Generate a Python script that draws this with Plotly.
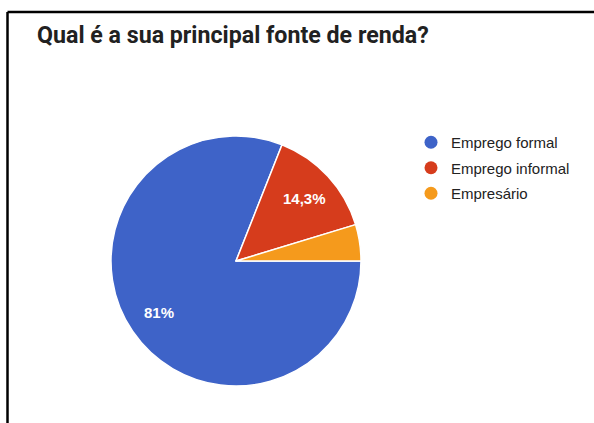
import math
import plotly.graph_objects as go

# Survey answers: main source of income
categories = ["Emprego formal", "Emprego informal", "Empresário"]
shares = [81.0, 14.3, 4.7]
slice_labels = ["81%", "14,3%", ""]
colors = ["#3e63c8", "#d63c1c", "#f59a1c"]

W, H = 594, 423
CX, CY, R = 236, 261, 125  # pie centre and radius in pixels
START_DEG = 0  # first slice starts at 3 o'clock, going clockwise
LABEL_R = 0.74


def px_x(v):
    return v / W


def px_y(v):
    return 1 - v / H


fig = go.Figure()

fig.add_trace(go.Pie(
    labels=categories,
    values=shares,
    textinfo="none",
    marker=dict(colors=colors, line=dict(color="white", width=1.5)),
    sort=False,
    direction="clockwise",
    rotation=90,
    showlegend=False,
    hoverinfo="label+percent",
    domain=dict(x=[px_x(CX - R), px_x(CX + R)], y=[px_y(CY + R), px_y(CY - R)]),
))

# slice percentages placed at the middle angle of each slice
total = sum(shares)
cum = 0.0
for val, lab in zip(shares, slice_labels):
    mid = START_DEG - 360.0 * (cum + val / 2) / total
    cum += val
    if not lab:
        continue
    a = math.radians(mid)
    fig.add_annotation(
        text=lab, showarrow=False, xref="paper", yref="paper",
        x=px_x(CX + LABEL_R * R * math.cos(a)),
        y=px_y(CY - LABEL_R * R * math.sin(a)),
        xanchor="center", yanchor="middle",
        font=dict(family="Liberation Sans, Arial", size=15, color="white", weight="bold"),
    )

# legend entries with round markers
for name, col in zip(categories, colors):
    fig.add_trace(go.Scatter(
        x=[None], y=[None], mode="markers", name=name, legendgroup=name,
        marker=dict(symbol="circle", size=13, color=col),
        showlegend=True,
    ))

fig.add_annotation(
    text="Qual é a sua principal fonte de renda?",
    xref="paper", yref="paper", x=px_x(35), y=px_y(35),
    xanchor="left", yanchor="middle", showarrow=False,
    font=dict(family="Roboto", size=23.2, color="#212121", weight="bold"),
)

# frame lines along the top and left edges
fig.add_shape(type="line", xref="paper", yref="paper",
              x0=px_x(7.5), x1=1.02, y0=px_y(12), y1=px_y(12),
              line=dict(color="black", width=2.5))
fig.add_shape(type="line", xref="paper", yref="paper",
              x0=px_x(7.5), x1=px_x(7.5), y0=px_y(12), y1=-0.02,
              line=dict(color="black", width=2.5))

fig.update_layout(
    width=W, height=H,
    margin=dict(l=0, r=0, t=0, b=0),
    paper_bgcolor="white", plot_bgcolor="white",
    xaxis=dict(visible=False, domain=[0.9, 0.91]),
    yaxis=dict(visible=False, domain=[0.9, 0.91]),
    legend=dict(
        x=px_x(411), y=px_y(126), xanchor="left", yanchor="top",
        font=dict(family="Liberation Sans, Arial", size=15, color="#222222"),
        itemwidth=30, traceorder="grouped", tracegroupgap=3,
        bgcolor="rgba(0,0,0,0)",
    ),
)

fig.write_html("out.html")
